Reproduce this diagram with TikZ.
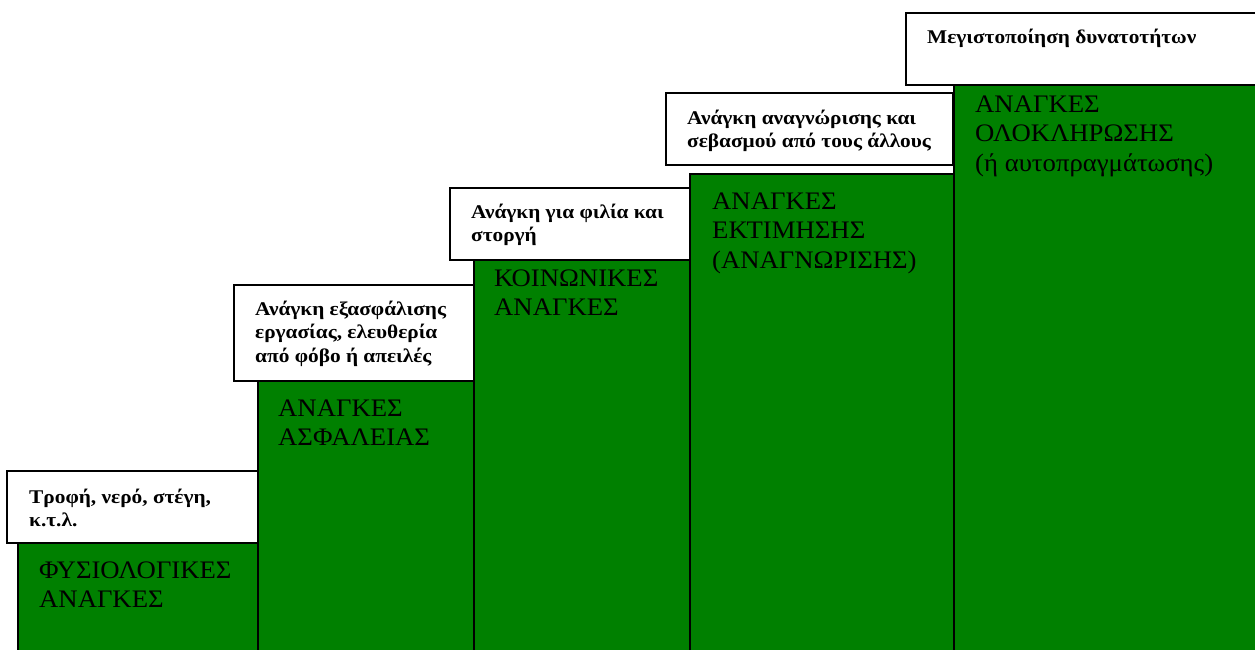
\documentclass[tikz,border=0pt]{standalone}
\usepackage{fontspec}
\setmainfont{Liberation Serif}
\newfontfamily\notefont[FakeStretch=1.10]{Liberation Serif}
\newfontfamily\needfont[FakeStretch=1.06]{Liberation Serif}
\definecolor{needgreen}{HTML}{008000}
\newcommand{\stack}[1]{\parbox[t]{400pt}{\raggedright #1}}
\begin{document}
\begin{tikzpicture}[x=1pt,y=-1pt,
  stepgreen/.style={draw=black,line width=1.2pt,fill=needgreen},
  stepnote/.style={draw=black,line width=1.2pt,fill=white},
  notetext/.style={anchor=base west,inner sep=0pt,
    font=\notefont\bfseries\fontsize{19.4}{23.7}\selectfont},
  needtext/.style={anchor=base west,inner sep=0pt,
    font=\needfont\fontsize{25.2}{29.7}\selectfont}]
\useasboundingbox (0,0) rectangle (1255,649);
\clip (0,0) rectangle (1255,649);
% the five steps of the staircase
\draw[stepgreen] (18,543) rectangle (258,660);
\draw[stepgreen] (258,380) rectangle (474,660);
\draw[stepgreen] (474,260) rectangle (690,660);
\draw[stepgreen] (690,174) rectangle (954,660);
\draw[stepgreen] (954,85) rectangle (1265,660);
% the captions above each step
\draw[stepnote] (7,471) rectangle (258,543);
\draw[stepnote] (234,285) rectangle (474,381);
\draw[stepnote] (450,188) rectangle (690,260);
\draw[stepnote] (666,93) rectangle (953,165);
\draw[stepnote] (906,13) rectangle (1265,85);
% caption texts
\node[notetext] (n1) at (29,503) {\stack{Τροφή, νερό, στέγη,\\κ.τ.λ.}};
\node[notetext] (n2) at (255,315) {\stack{Ανάγκη εξασφάλισης\\εργασίας, ελευθερία\\από φόβο ή απειλές}};
\node[notetext] (n3) at (471,218) {\stack{Ανάγκη για φιλία και\\στοργή}};
\node[notetext] (n4) at (687,124) {\stack{Ανάγκη αναγνώρισης και\\σεβασμού από τους άλλους}};
\node[notetext] (n5) at (927,43) {\stack{Μεγιστοποίηση δυνατοτήτων}};
% need texts
\node[needtext] (s1) at (39,578) {\stack{ΦΥΣΙΟΛΟΓΙΚΕΣ\\ΑΝΑΓΚΕΣ}};
\node[needtext] (s2) at (278,416) {\stack{ΑΝΑΓΚΕΣ\\ΑΣΦΑΛΕΙΑΣ}};
\node[needtext] (s3) at (494,286) {\stack{ΚΟΙΝΩΝΙΚΕΣ\\ΑΝΑΓΚΕΣ}};
\node[needtext] (s4) at (712,209) {\stack{ΑΝΑΓΚΕΣ\\ΕΚΤΙΜΗΣΗΣ\\(ΑΝΑΓΝΩΡΙΣΗΣ)}};
\node[needtext] (s5) at (975,112) {\stack{ΑΝΑΓΚΕΣ\\ΟΛΟΚΛΗΡΩΣΗΣ\\(ή αυτοπραγμάτωσης)}};
\end{tikzpicture}
\end{document}
